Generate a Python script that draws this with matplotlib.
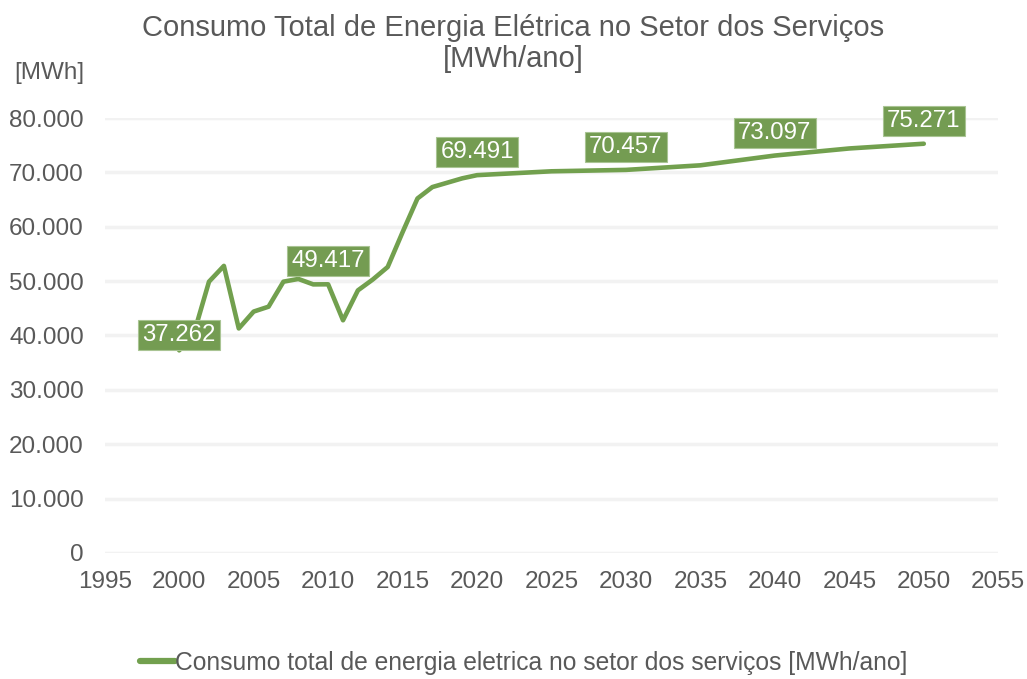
import matplotlib.pyplot as plt
import matplotlib as mpl

mpl.rcParams["font.family"] = ["Liberation Sans", "DejaVu Sans"]

years = [2000, 2001, 2002, 2003, 2004, 2005, 2006, 2007, 2008, 2009,
         2010, 2011, 2012, 2013, 2014, 2015, 2016, 2017, 2018, 2019,
         2020, 2025, 2030, 2035, 2040, 2045, 2050]
consumo = [37262, 40500, 49900, 52800, 41300, 44400, 45300, 49900, 50400, 49400,
           49417, 42800, 48300, 50300, 52600, 59000, 65200, 67300, 68100, 68900,
           69491, 70200, 70457, 71300, 73097, 74400, 75271]
label_years = [2000, 2010, 2020, 2030, 2040, 2050]

GREEN = "#72a04e"
BOX = "#749c52"
GREY = "#595959"

fig = plt.figure(figsize=(10.27, 6.79), dpi=100)
ax = fig.add_axes([0.102, 0.1856, 0.870, 0.6406])

for y in range(0, 80001, 10000):
    ax.axhline(y, color="#f2f2f2", lw=2.5, zorder=0)

ax.plot(years, consumo, color=GREEN, lw=3.3, solid_capstyle="round",
        solid_joinstyle="round", zorder=2,
        label="Consumo total de energia eletrica no setor dos serviços [MWh/ano]")

for yr in label_years:
    v = consumo[years.index(yr)]
    txt = f"{v:,}".replace(",", ".")
    off = 11 if yr == 2000 else 16.5
    ax.annotate(txt, (yr, v), xytext=(0, off), textcoords="offset points",
                ha="center", va="center", fontsize=17.3, color="white",
                bbox=dict(boxstyle="square,pad=0.17", fc=BOX, ec="#a9c493", lw=0.8),
                zorder=3, annotation_clip=False)

ax.set_xlim(1995, 2055)
ax.set_ylim(0, 80000)
ax.set_xticks(range(1995, 2056, 5))
ax.set_yticks(range(0, 80001, 10000))
ax.set_yticklabels([f"{v:,}".replace(",", ".") if v else "0" for v in range(0, 80001, 10000)])
ax.tick_params(length=0, labelsize=17.5, colors=GREY)
ax.tick_params(axis="y", pad=15)
ax.tick_params(axis="x", pad=13)
for s in ax.spines.values():
    s.set_visible(False)

fig.text(0.5, 0.936, "Consumo Total de Energia Elétrica no Setor dos Serviços\n[MWh/ano]",
         ha="center", va="center", fontsize=21, color=GREY, linespacing=1.1)
fig.text(0.014, 0.892, "[MWh]", ha="left", va="center", fontsize=17.5, color=GREY)

leg = fig.legend(loc="center", bbox_to_anchor=(0.51, 0.024), frameon=False,
                 fontsize=17.7, handlelength=1.4, handletextpad=0.0, labelcolor=GREY)
for h in leg.get_lines():
    h.set_linewidth(4.5)

fig.savefig("out.png", dpi=100, facecolor="white")
